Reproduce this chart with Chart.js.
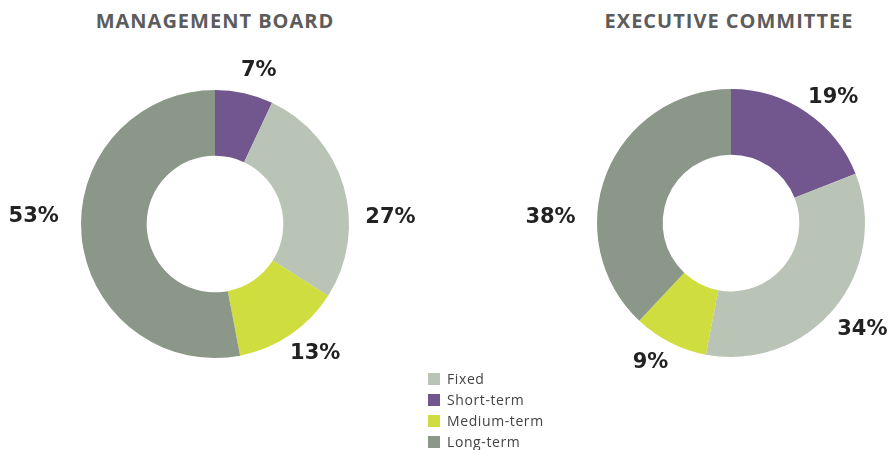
<!DOCTYPE html>
<html>
<head>
<meta charset="utf-8">
<script src="https://cdn.jsdelivr.net/npm/chart.js@4.4.0/dist/chart.umd.min.js"></script>
<style>
  html, body { margin: 0; padding: 0; background: #fff; }
  body { width: 890px; height: 450px; position: relative; overflow: hidden; font-family: "Open Sans", sans-serif; }
  .title { position: absolute; top: 7px; width: 430px; text-align: center; font: bold 20px "Open Sans", sans-serif; letter-spacing: 1px; color: #5c5c5c; }
  canvas { position: absolute; top: 0; }
  #legend { position: absolute; left: 428px; top: 368px; }
  .item { height: 21px; display: flex; align-items: center; font-size: 14px; letter-spacing: 0.6px; color: #444; }
  .sw { width: 12px; height: 12px; margin-right: 7px; }
</style>
</head>
<body>
<div class="title" style="left:0">MANAGEMENT BOARD</div>
<div class="title" style="left:514px">EXECUTIVE COMMITTEE</div>
<canvas id="chart-board" width="430" height="450" style="left:0"></canvas>
<canvas id="chart-committee" width="430" height="450" style="left:460px"></canvas>
<div id="legend"></div>
<script>
// slices go clockwise from the top
const SEGMENTS = ['Short-term', 'Fixed', 'Medium-term', 'Long-term'];
const BOARD = [7, 27, 13, 53];
const COMMITTEE = [19, 34, 9, 38];
const LEGEND_ORDER = ['Fixed', 'Short-term', 'Medium-term', 'Long-term'];

const COLORS = {
    'Fixed': '#b9c4b6',
    'Short-term': '#71578e',
    'Medium-term': '#cfdd3f',
    'Long-term': '#8b9788'
};

// percent labels outside the ring
const outerLabels = {
    id: 'outerLabels',
    afterDatasetsDraw(chart, args, opts) {
        const ctx = chart.ctx;
        const meta = chart.getDatasetMeta(0);
        ctx.save();
        ctx.font = 'bold 21px "DejaVu Sans", sans-serif';
        ctx.fillStyle = '#222';
        ctx.textAlign = 'center';
        ctx.textBaseline = 'middle';
        meta.data.forEach((arc, i) => {
            const p = arc.getProps(['x', 'y', 'startAngle', 'endAngle', 'outerRadius'], true);
            const mid = (p.startAngle + p.endAngle) / 2;
            const r = p.outerRadius + 30;
            const nudge = (opts.nudge || [])[i] || [0, 0];
            const x = p.x + Math.cos(mid) * r + nudge[0];
            const y = p.y + Math.sin(mid) * r + nudge[1];
            ctx.fillText(chart.data.datasets[0].data[i] + '%', x, y);
        });
        ctx.restore();
    }
};

function renderDonut(canvasId, values, padding, nudge) {
    const ctx = document.getElementById(canvasId);
    return new Chart(ctx.getContext('2d'), {
        type: 'doughnut',
        data: {
            labels: SEGMENTS,
            datasets: [{
                data: values,
                backgroundColor: SEGMENTS.map(s => COLORS[s]),
                borderWidth: 0
            }]
        },
        options: {
            responsive: false,
            animation: false,
            cutout: '51%',
            layout: { padding: padding },
            plugins: {
                legend: { display: false },
                tooltip: { enabled: false },
                outerLabels: { nudge: nudge }
            }
        },
        plugins: [outerLabels]
    });
}

renderDonut('chart-board', BOARD,
    { left: 81, right: 81, top: 90, bottom: 92 },
    [[8, 7], [18, 39], [8, -6], [-18, -23]]);
renderDonut('chart-committee', COMMITTEE,
    { left: 137, right: 25, top: 89, bottom: 93 },
    [[10, 10], [5, 2], [-6, -7], [-28, 55]]);

const legend = document.getElementById('legend');
LEGEND_ORDER.forEach(name => {
    const row = document.createElement('div');
    row.className = 'item';
    row.innerHTML = '<span class="sw" style="background:' + COLORS[name] + '"></span>' + name;
    legend.appendChild(row);
});
</script>
</body>
</html>
